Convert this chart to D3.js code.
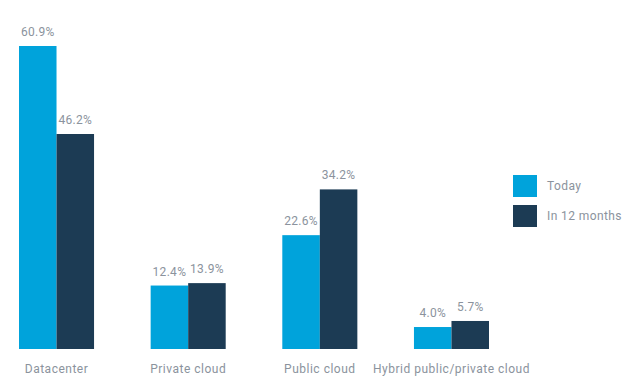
<!DOCTYPE html>
<html>
<head>
<meta charset="utf-8">
<script src="https://cdn.jsdelivr.net/npm/d3@7"></script>
<style>
  html, body { margin: 0; padding: 0; background: #fff; }
  svg text { font-family: Roboto, "Noto Sans", sans-serif; fill: #8b939d; }
</style>
</head>
<body>
<svg id="chart" width="633" height="389"></svg>
<script>
const categories = ["Datacenter", "Private cloud", "Public cloud", "Hybrid public/private cloud"];
const seriesNames = ["Today", "In 12 months"];
const today = [60.9, 12.4, 22.6, 4.0];
const in12Months = [46.2, 13.9, 34.2, 5.7];
const colors = ["#00a3db", "#1c3b54"];

const svg = d3.select("#chart");
const baseline = 349;

const x = d3.scaleBand().domain(categories).range([19, 489]).paddingInner(0.43).paddingOuter(0);
const xSub = d3.scaleBand().domain(seriesNames).range([0, x.bandwidth()]);

// the reference draws each series with its own vertical scale
const yScales = [
  d3.scaleLinear().domain([-0.45, 60.9]).range([baseline, 46]),
  d3.scaleLinear().domain([-0.37, 46.2]).range([baseline, 134])
];
const seriesValues = [today, in12Months];

seriesNames.forEach((name, si) => {
  const y = yScales[si];
  const g = svg.append("g");
  const data = categories.map((c, i) => ({ c, v: seriesValues[si][i] }));
  g.selectAll("rect").data(data).join("rect")
    .attr("x", d => x(d.c) + xSub(name))
    .attr("y", d => y(d.v))
    .attr("width", xSub.bandwidth())
    .attr("height", d => baseline - y(d.v))
    .attr("fill", colors[si]);
  g.selectAll("text").data(data).join("text")
    .attr("x", d => x(d.c) + xSub(name) + xSub.bandwidth() / 2)
    .attr("y", d => y(d.v) - 10)
    .attr("text-anchor", "middle")
    .attr("font-size", 12)
    .attr("letter-spacing", 0.3)
    .text(d => d.v.toFixed(1) + "%");
});

// category labels (axis without line/ticks)
const xAxis = d3.axisBottom(x).tickSize(0).tickPadding(0);
const ax = svg.append("g").attr("transform", `translate(0,${baseline + 15})`).call(xAxis);
ax.select(".domain").remove();
ax.selectAll("text")
  .attr("font-size", 12)
  .attr("letter-spacing", 0.5)
  .style("font-family", "Roboto, 'Noto Sans', sans-serif")
  .attr("fill", "#8b939d");

// legend
const legend = svg.append("g").attr("transform", "translate(513,175)");
seriesNames.forEach((name, i) => {
  const row = legend.append("g").attr("transform", `translate(0,${i * 30})`);
  row.append("rect").attr("width", 24).attr("height", 22).attr("fill", colors[i]);
  row.append("text").attr("x", 34).attr("y", 15).attr("font-size", 12)
    .attr("letter-spacing", 0.4).text(name);
});
</script>
</body>
</html>
